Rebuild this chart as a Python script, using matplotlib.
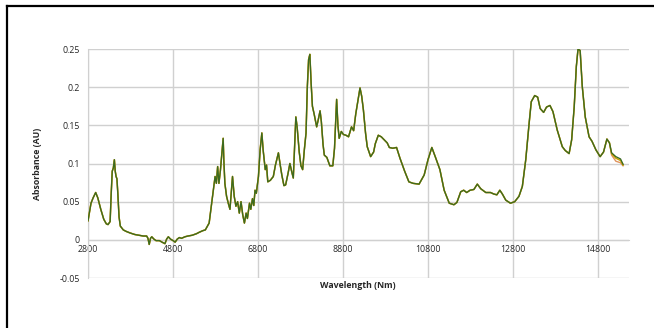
import numpy as np
import matplotlib
matplotlib.use('Agg')
import matplotlib.pyplot as plt
from matplotlib.lines import Line2D

plt.rcParams['font.family'] = ['Open Sans', 'DejaVu Sans']

# ============================================================
# Spectrum (shared by all traces)
wl = [2800, 2830, 2870, 2920, 2980, 3030, 3100, 3170, 3230, 3270, 3320, 3345, 3370, 3395,
      3420, 3440, 3460, 3480, 3500, 3530, 3560, 3630, 3700, 3790, 3900, 4000, 4100, 4180,
      4210, 4240, 4270, 4300, 4350, 4400, 4480, 4540, 4610, 4650, 4690, 4740, 4800, 4850,
      4900, 4950, 5000, 5080, 5150, 5250, 5350, 5420, 5500, 5560, 5610, 5650, 5690, 5730,
      5790, 5820, 5850, 5880, 5915, 5950, 5980, 5995, 6020, 6060, 6100, 6140, 6200, 6240,
      6280, 6320, 6360, 6400, 6440, 6480, 6520, 6550, 6600, 6630, 6670, 6700, 6730, 6760,
      6810, 6850, 6890, 6920, 6970, 7000, 7030, 7090, 7160, 7210, 7280, 7320, 7360, 7410,
      7450, 7510, 7550, 7590, 7630, 7660, 7690, 7720, 7770, 7810, 7850, 7890, 7930, 7960,
      7990, 8020, 8050, 8080, 8120, 8180, 8220, 8260, 8290, 8330, 8360, 8420, 8490, 8560,
      8600, 8650, 8680, 8710, 8760, 8810, 8870, 8930, 9000, 9050, 9100, 9200, 9240, 9280,
      9330, 9370, 9450, 9520, 9560, 9630, 9700, 9770, 9840, 9890, 9970, 10060, 10140, 10250,
      10350, 10450, 10590, 10710, 10800, 10890, 10970, 11080, 11180, 11300, 11410, 11480,
      11570, 11640, 11710, 11790, 11880, 11960, 12040, 12160, 12270, 12350, 12420, 12490,
      12550, 12630, 12740, 12840, 12940, 13020, 13100, 13180, 13230, 13310, 13380, 13440,
      13520, 13590, 13670, 13740, 13840, 13960, 14030, 14120, 14180, 14240, 14290, 14330,
      14380, 14430, 14500, 14590, 14660, 14750, 14850, 14930, 15010, 15070]
absb = [0.025, 0.035, 0.048, 0.055, 0.062, 0.055, 0.040, 0.027, 0.021, 0.020, 0.024, 0.060, 0.090, 0.094,
        0.105, 0.090, 0.083, 0.080, 0.062, 0.030, 0.018, 0.013, 0.011, 0.009, 0.007, 0.006, 0.005, 0.005,
        0.002, -0.006, 0.002, 0.004, 0.001, -0.001, -0.001, -0.003, -0.005, 0.001, 0.004, 0.001, -0.001, -0.003,
        0.001, 0.003, 0.002, 0.004, 0.005, 0.006, 0.008, 0.010, 0.012, 0.013, 0.018, 0.022, 0.040, 0.057,
        0.083, 0.074, 0.096, 0.074, 0.091, 0.113, 0.133, 0.105, 0.074, 0.057, 0.048, 0.040, 0.083, 0.057,
        0.044, 0.050, 0.035, 0.050, 0.033, 0.022, 0.035, 0.028, 0.048, 0.040, 0.054, 0.045, 0.065, 0.061,
        0.083, 0.118, 0.140, 0.118, 0.092, 0.098, 0.076, 0.078, 0.083, 0.098, 0.114, 0.099, 0.085, 0.071,
        0.072, 0.088, 0.100, 0.090, 0.081, 0.120, 0.161, 0.148, 0.115, 0.097, 0.092, 0.118, 0.140, 0.200,
        0.236, 0.243, 0.205, 0.175, 0.165, 0.148, 0.158, 0.169, 0.155, 0.125, 0.111, 0.108, 0.097, 0.097,
        0.120, 0.184, 0.150, 0.133, 0.142, 0.138, 0.137, 0.135, 0.148, 0.143, 0.165, 0.199, 0.188, 0.170,
        0.140, 0.122, 0.109, 0.115, 0.126, 0.137, 0.135, 0.131, 0.127, 0.121, 0.120, 0.121, 0.107, 0.090,
        0.076, 0.074, 0.073, 0.085, 0.105, 0.121, 0.109, 0.092, 0.065, 0.048, 0.046, 0.049,
        0.063, 0.065, 0.062, 0.065, 0.066, 0.073, 0.067, 0.062, 0.062, 0.060, 0.059, 0.065,
        0.060, 0.052, 0.048, 0.050, 0.057, 0.070, 0.105, 0.153, 0.181, 0.189, 0.187, 0.172,
        0.167, 0.174, 0.176, 0.168, 0.144, 0.122, 0.117, 0.113, 0.131, 0.174, 0.227, 0.250,
        0.248, 0.201, 0.161, 0.135, 0.129, 0.118, 0.109, 0.115, 0.132, 0.127]

# traces separate only at the long-wavelength end
tail_wl     = [15120, 15220, 15330, 15390]
tail_green  = [0.114, 0.109, 0.106, 0.099]
tail_yellow = [0.113, 0.107, 0.104, 0.098]
tail_orange = [0.111, 0.103, 0.101, 0.097]

yticks = [-0.05, 0, 0.05, 0.1, 0.15, 0.2, 0.25]
ytick_labels = ['-0.05', '0', '0.05', '0.1', '0.15', '0.2', '0.25']
xticks = [2800, 4800, 6800, 8800, 10800, 12800, 14800]

# ============================================================
fig = plt.figure(figsize=(6.54, 3.28), dpi=100)
ax = fig.add_axes([0.1346, 0.1524, 0.8272, 0.6982])

grid_c = '#d0d0d0'
# spine position first: it resets the ticks
for s in ['top', 'right']:
    ax.spines[s].set_visible(False)
ax.spines['left'].set_color(grid_c)
ax.spines['bottom'].set_color(grid_c)
ax.spines['bottom'].set_position(('data', 0))

ax.plot(wl + tail_wl, absb + tail_orange, color='#e0935e', lw=1.0, zorder=3)
ax.plot(wl + tail_wl, absb + tail_yellow, color='#c8a200', lw=1.1, zorder=4)
ax.plot(wl + tail_wl, absb + tail_green, color='#3a6a22', lw=0.95, zorder=5)

ax.set_xlim(2800, 15530)
ax.set_ylim(-0.05, 0.25)
ax.set_xticks(xticks)
ax.set_xticklabels([str(t) for t in xticks])
ax.set_yticks(yticks)
ax.set_yticklabels(ytick_labels)
ax.tick_params(length=0, labelsize=6.3, labelcolor='#262626')
ax.tick_params(axis='y', pad=6)
ax.tick_params(axis='x', pad=4)
ax.grid(True, color=grid_c, lw=1.0)
ax.set_axisbelow(True)

fig.text(0.547, 0.131, 'Wavelength (Nm)', fontsize=6.3, fontweight='bold',
         ha='center', va='center', color='#262626')
fig.text(0.058, 0.5, 'Absorbance (AU)', fontsize=6.3, fontweight='bold',
         ha='center', va='center', rotation=90, color='#262626')

# black frame (top and left edges visible)
fig.add_artist(Line2D([0.0107, 1.0], [0.9817, 0.9817], color='black', lw=1.6,
                      transform=fig.transFigure))
fig.add_artist(Line2D([0.0107, 0.0107], [0.0, 0.9817], color='black', lw=1.6,
                      transform=fig.transFigure))

plt.savefig('out.png', dpi=100)
plt.close()
